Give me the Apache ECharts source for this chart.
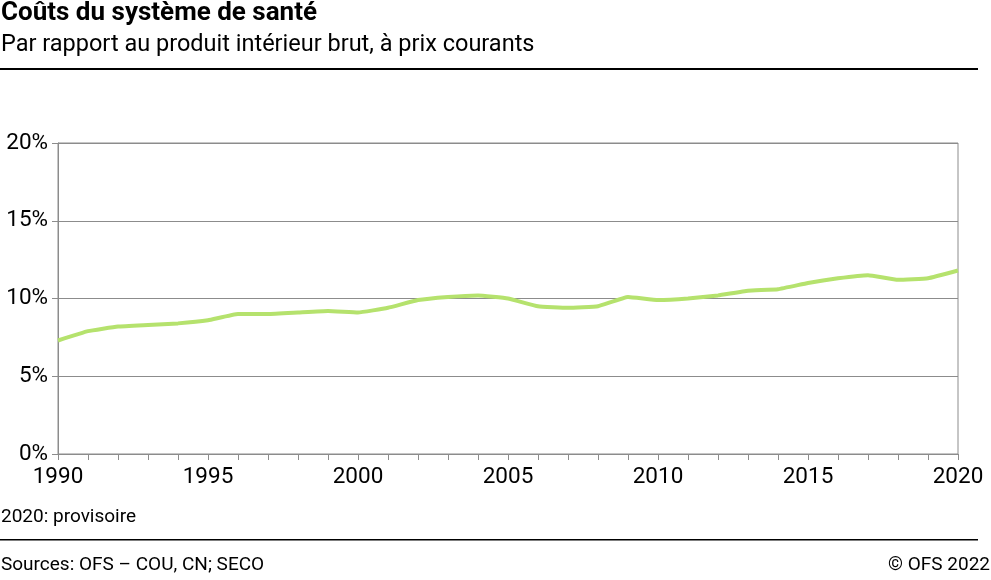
<!DOCTYPE html>
<html>
<head>
<meta charset="utf-8">
<script src="https://cdn.jsdelivr.net/npm/echarts@6/dist/echarts.min.js"></script>
<style>
html,body{margin:0;padding:0;background:#fff;}
#chart{width:991px;height:580px;}
</style>
</head>
<body>
<div id="chart"></div>
<script>
const years = [];
for (let y = 1990; y <= 2020; y++) years.push(String(y));
const costsPctGDP = [7.3, 7.9, 8.2, 8.3, 8.4, 8.6, 9.0, 9.0, 9.1, 9.2, 9.1, 9.4, 9.9, 10.1, 10.2, 10.0,
  9.5, 9.4, 9.5, 10.1, 9.9, 10.0, 10.2, 10.5, 10.6, 11.0, 11.3, 11.5, 11.2, 11.3, 11.8];
const yTicks = [0, 5, 10, 15, 20];

const titleText = 'Coûts du système de santé';
const subtitleText = 'Par rapport au produit intérieur brut, à prix courants';
const noteText = '2020: provisoire';
const sourceText = 'Sources: OFS – COU, CN; SECO';
const copyrightText = '© OFS 2022';

const font = 'Roboto, "Liberation Sans", sans-serif';
const chart = echarts.init(document.getElementById('chart'), null, {renderer: 'canvas'});
chart.setOption({
  animation: false,
  backgroundColor: '#fff',
  grid: {left: 58, right: 33, top: 143, bottom: 126, show: true, borderColor: '#8c8c8c', borderWidth: 1},
  xAxis: {
    type: 'category',
    data: years,
    boundaryGap: false,
    axisLine: {lineStyle: {color: '#8c8c8c', width: 1}},
    axisTick: {show: true, interval: 0, length: 6, lineStyle: {color: '#8c8c8c'}},
    axisLabel: {interval: 4, color: '#000', fontFamily: font, fontSize: 22.5, margin: 12},
    splitLine: {show: false}
  },
  yAxis: {
    type: 'value',
    min: yTicks[0],
    max: yTicks[yTicks.length - 1],
    interval: 5,
    axisLine: {show: true, lineStyle: {color: '#8c8c8c', width: 1}},
    axisTick: {show: true, length: 6, lineStyle: {color: '#8c8c8c'}},
    axisLabel: {color: '#000', fontFamily: font, fontSize: 22.5, margin: 10, formatter: '{value}%'},
    splitLine: {show: true, lineStyle: {color: '#8c8c8c', width: 1}}
  },
  series: [{
    type: 'line',
    data: costsPctGDP,
    smooth: 0.1,
    showSymbol: false,
    lineStyle: {color: '#b5e26d', width: 4},
    itemStyle: {color: '#b5e26d'}
  }],
  graphic: [
    {type: 'text', left: 1, top: 0, style: {text: titleText, font: 'bold 26px ' + font, fill: '#000'}},
    {type: 'text', left: 1, top: 33, style: {text: subtitleText, font: '23.5px ' + font, fill: '#000'}},
    {type: 'rect', shape: {x: 0, y: 68, width: 978, height: 2}, style: {fill: '#000'}},
    {type: 'text', left: 1, top: 508, style: {text: noteText, font: '19px ' + font, fill: '#000'}},
    {type: 'rect', shape: {x: 0, y: 539, width: 978, height: 1.5}, style: {fill: '#000'}},
    {type: 'text', left: 1, top: 556, style: {text: sourceText, font: '19px ' + font, fill: '#000'}},
    {type: 'text', right: 1, top: 556, style: {text: copyrightText, font: '19px ' + font, fill: '#000'}}
  ]
});
</script>
</body>
</html>
